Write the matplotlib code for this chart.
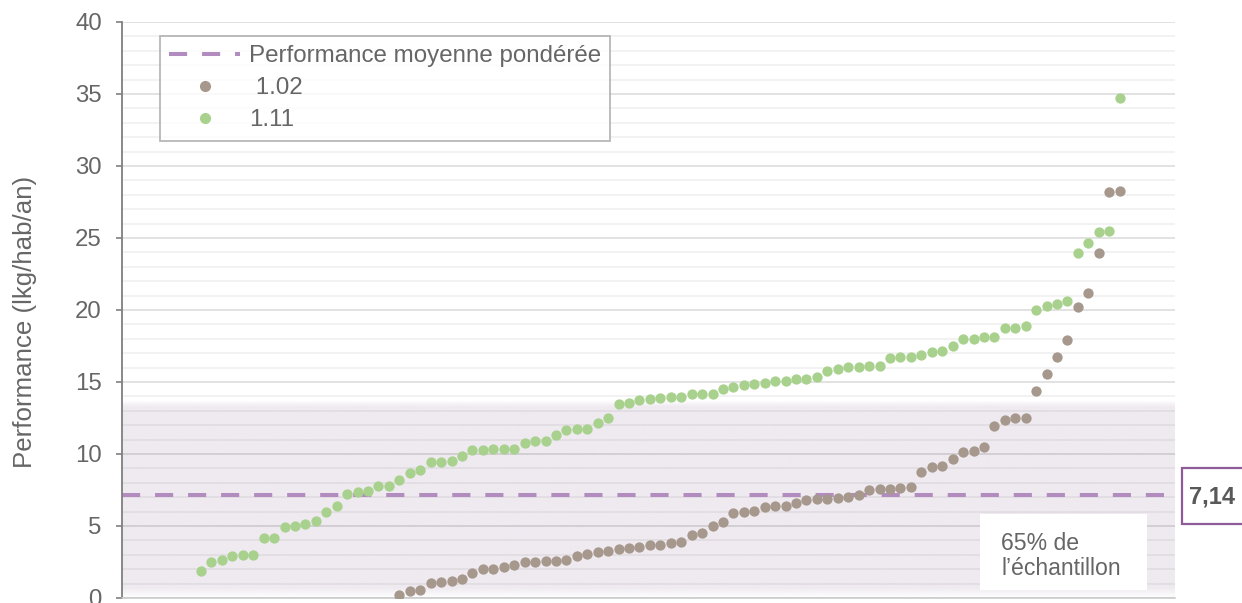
import numpy as np
import matplotlib.pyplot as plt
from matplotlib.patches import Rectangle
from matplotlib.lines import Line2D

# values, sorted ascending (one dot per sample)
green_vals = [1.85, 2.52, 2.62, 2.92, 3.01, 3.01, 4.17, 4.17, 4.91, 5.02,
              5.12, 5.37, 6.00, 6.37, 7.22, 7.38, 7.45, 7.78, 7.78, 8.19,
              8.66, 8.91, 9.47, 9.47, 9.54, 9.86, 10.28, 10.28, 10.32, 10.37,
              10.37, 10.79, 10.93, 10.93, 11.32, 11.67, 11.71, 11.74, 12.13, 12.52,
              13.45, 13.52, 13.75, 13.82, 13.91, 13.97, 13.97, 14.14, 14.14, 14.19,
              14.51, 14.63, 14.77, 14.85, 14.91, 15.05, 15.08, 15.22, 15.22, 15.36,
              15.79, 15.87, 16.05, 16.05, 16.10, 16.10, 16.66, 16.71, 16.75, 16.85,
              17.06, 17.15, 17.52, 17.99, 17.99, 18.10, 18.12, 18.73, 18.77, 18.91,
              20.00, 20.30, 20.44, 20.63, 23.94, 24.65, 25.39, 25.49, 34.70]
brown_vals = [0.18, 0.46, 0.56, 1.06, 1.11, 1.16, 1.34, 1.71, 1.99, 2.04,
              2.18, 2.27, 2.48, 2.52, 2.57, 2.59, 2.64, 2.94, 3.06, 3.22,
              3.29, 3.40, 3.45, 3.52, 3.68, 3.68, 3.80, 3.91, 4.38, 4.49,
              5.02, 5.30, 5.93, 6.00, 6.06, 6.29, 6.42, 6.42, 6.57, 6.81,
              6.85, 6.85, 6.92, 7.04, 7.18, 7.50, 7.58, 7.58, 7.65, 7.69,
              8.72, 9.10, 9.19, 9.63, 10.12, 10.19, 10.46, 11.92, 12.38, 12.48,
              12.52, 14.38, 15.58, 16.74, 17.94, 20.21, 21.20, 23.94, 28.17, 28.26]
green_label = "1.11"
brown_label = " 1.02"
avg_label = "Performance moyenne pondérée"
avg_value = 7.14
band_top = 13.75
band_text = "65% de\nl\u2019échantillon"

# both series are right-aligned on the same rank axis
green_x = np.arange(len(green_vals))
brown_x = np.arange(len(green_vals) - len(brown_vals), len(green_vals))

GREEN = '#a9d18e'
BROWN = '#a6988c'
PURPLE = '#b28cbf'
TXT = '#666666'

plt.rcParams['font.family'] = ['Liberation Sans', 'DejaVu Sans']

fig = plt.figure(figsize=(12.42, 6.03), dpi=100)
ax = fig.add_axes([122 / 1242, 5 / 603, 1053 / 1242, 576 / 603])

xmin, xmax = -7.57, 93.3
ax.set_xlim(xmin, xmax)
ax.set_ylim(0, 40)

# shaded band with soft edges
ys = np.linspace(0, band_top, 300)
alpha = np.clip(np.minimum(ys / 0.7, (band_top - ys) / 0.45), 0, 1)
img = np.zeros((len(ys), 2, 4))
img[..., :3] = np.array([239, 234, 240]) / 255
img[..., 3] = alpha[:, None]
ax.imshow(img, extent=[xmin, xmax, 0, band_top], origin='lower',
          aspect='auto', zorder=0.2, interpolation='bilinear')

ax.set_yticks(np.arange(0, 41, 5))
ax.set_yticks(np.arange(0, 41, 1), minor=True)
ax.set_xticks([])
ax.set_axisbelow(True)
ax.grid(axis='y', which='major', color='black', alpha=0.15, lw=1.1)
ax.grid(axis='y', which='minor', color='black', alpha=0.065, lw=1.1)
ax.tick_params(axis='y', which='major', length=4.5, width=1.2, color='#7f7f7f',
               labelsize=17.3, labelcolor=TXT, pad=10)
ax.tick_params(axis='y', which='minor', length=0)

for s in ['top', 'right']:
    ax.spines[s].set_visible(False)
ax.spines['left'].set_color('#7f7f7f')
ax.spines['left'].set_linewidth(1.3)
ax.spines['bottom'].set_color('#c8c8c8')
ax.spines['bottom'].set_linewidth(1.1)

ax.axhline(avg_value, color=PURPLE, lw=2.9, linestyle=(0, (4.5, 3.7)),
           dash_capstyle='butt', zorder=2)
ax.scatter(brown_x, brown_vals, s=55, color=BROWN, linewidths=0, zorder=3)
ax.scatter(green_x, green_vals, s=55, color=GREEN, linewidths=0, zorder=3)

ax.set_ylabel("Performance (lkg/hab/an)", fontsize=18.6, color=TXT)
ax.yaxis.set_label_coords(-0.0807, 0.48)

handles = [
    Line2D([], [], color=PURPLE, lw=2.9, linestyle=(0, (4.5, 3.7))),
    Line2D([], [], marker='o', ls='none', color=BROWN, markersize=7),
    Line2D([], [], marker='o', ls='none', color=GREEN, markersize=7),
]
leg = ax.legend(handles, [avg_label, brown_label, green_label],
                loc='upper left', bbox_to_anchor=(0.0361, 0.9757),
                prop={'size': 17.4}, labelcolor=TXT, frameon=True, fancybox=False,
                edgecolor='#a6a6a6', borderaxespad=0, borderpad=0.38,
                handlelength=2.95, handletextpad=0.35, labelspacing=0.42)
leg.get_frame().set_linewidth(1.3)

# white note box at the bottom right of the band
ax.add_patch(Rectangle((0.815, 0.014), 0.1586, 0.132, transform=ax.transAxes,
                       facecolor='white', edgecolor='none', zorder=4))
ax.text(0.835, 0.073, band_text, transform=ax.transAxes, fontsize=16.6,
        color=TXT, va='center', ha='left', linespacing=1.15, zorder=5)

# value box outside the plot on the right
fig.add_artist(Rectangle((1182 / 1242, (603 - 524) / 603), 70 / 1242, 56 / 603,
                         transform=fig.transFigure, facecolor='white',
                         edgecolor='#8e5a9a', lw=1.6))
fig.text(1212 / 1242, (603 - 497) / 603, f"{avg_value:.2f}".replace('.', ','),
         fontsize=17, fontweight='bold', color='#595959', ha='center', va='center')

fig.savefig('out.png', dpi=100)
